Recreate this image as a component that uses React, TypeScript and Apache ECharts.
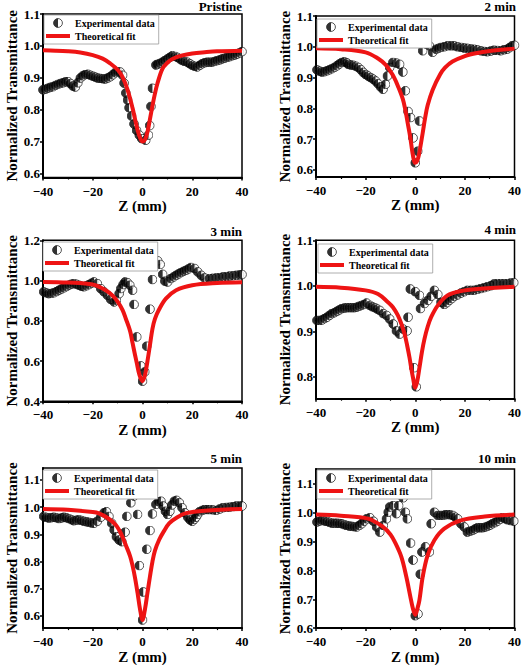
import React, { useEffect, useRef } from "react";
import * as echarts from "echarts";

const FONT = "Liberation Serif";
const RED = "#ee1414";

const panelTitles = ["Pristine", "2 min", "3 min", "4 min", "5 min", "10 min"];
const xTicks = [-40, -20, 0, 20, 40];
const yTicksA = [0.6, 0.7, 0.8, 0.9, 1.0, 1.1];
const yTicks3 = [0.4, 0.6, 0.8, 1.0, 1.2];
const yTicks4 = [0.8, 0.9, 1.0, 1.1];

const pristineExp: number[][] = [
  [-40, 0.862], [-39, 0.864], [-38, 0.867], [-37, 0.87], [-36, 0.872], [-35, 0.876], [-34, 0.879], [-33, 0.882],
  [-32, 0.884], [-31, 0.887], [-30, 0.888], [-29, 0.882], [-28, 0.874], [-27, 0.871], [-26, 0.884], [-25, 0.899],
  [-24, 0.906], [-23, 0.91], [-22, 0.911], [-21, 0.908], [-20, 0.905], [-19, 0.902], [-18, 0.899], [-17, 0.898],
  [-16, 0.897], [-15, 0.896], [-14, 0.899], [-13, 0.903], [-12, 0.909], [-11, 0.916], [-10, 0.919], [-9, 0.918],
  [-8, 0.908], [-7.4, 0.883], [-6.7, 0.852], [-6, 0.83], [-5.4, 0.806], [-4.4, 0.78], [-3.4, 0.755], [-2.4, 0.735],
  [-1.3, 0.72], [-0.3, 0.709], [1.3, 0.704], [2.4, 0.72], [2.9, 0.75], [3.4, 0.81], [4, 0.867], [5.4, 0.94],
  [6, 0.942], [7, 0.945], [8, 0.949], [9, 0.954], [10, 0.959], [11, 0.964], [12, 0.969], [13, 0.967], [14, 0.964],
  [15, 0.959], [16, 0.954], [17, 0.951], [18, 0.949], [19, 0.944], [20, 0.939], [21, 0.936], [22, 0.934], [23, 0.939],
  [24, 0.944], [25, 0.947], [26, 0.949], [27, 0.949], [28, 0.949], [29, 0.951], [30, 0.954], [31, 0.956], [32, 0.959],
  [33, 0.961], [34, 0.964], [35, 0.966], [36, 0.969], [37, 0.971], [38, 0.974], [39, 0.978], [40, 0.982],
];
const pristineFit: number[][] = [
  [-40, 0.986], [-35, 0.985], [-30, 0.983], [-25, 0.979], [-20, 0.971], [-16, 0.96], [-13, 0.945], [-10, 0.925],
  [-8, 0.902], [-6, 0.862], [-4, 0.805], [-3, 0.77], [-2, 0.737], [-1, 0.712], [0, 0.7], [1, 0.706], [2, 0.73],
  [3, 0.77], [4, 0.812], [5, 0.85], [6, 0.882], [8, 0.928], [10, 0.947], [12, 0.959], [16, 0.97], [20, 0.976],
  [25, 0.98], [30, 0.983], [40, 0.985],
];

const twoMinExp: number[][] = [
  [-39.6, 0.925], [-38.6, 0.921], [-37.6, 0.918], [-36.6, 0.919], [-35.6, 0.922], [-34.6, 0.925], [-33.6, 0.929],
  [-32.6, 0.933], [-31.6, 0.938], [-30.6, 0.944], [-29.6, 0.949], [-28.6, 0.951], [-27.6, 0.948], [-27, 0.943],
  [-26, 0.941], [-25, 0.94], [-24, 0.937], [-23, 0.933], [-22, 0.926], [-21, 0.917], [-20, 0.91], [-19, 0.905],
  [-18, 0.9], [-17, 0.895], [-16, 0.889], [-15, 0.88], [-14, 0.87], [-13, 0.862], [-12, 0.878], [-11.2, 0.905],
  [-10.3, 0.933], [-9, 0.949], [-7.6, 0.947], [-6.3, 0.943], [-5, 0.918], [-4, 0.857], [-2.9, 0.79], [-1.9, 0.77],
  [-0.9, 0.704], [0, 0.623], [1, 0.661], [1.7, 0.759], [3, 0.987], [4.4, 1.009], [5.7, 1.003], [7, 0.982],
  [8.4, 0.992], [9.4, 0.995], [10.4, 0.998], [11.7, 1.0], [13, 1.003], [14.4, 1.003], [15.7, 1.003], [17, 1.0],
  [18.4, 0.998], [19.7, 0.996], [21, 0.995], [22.4, 0.993], [23.7, 0.992], [25, 0.99], [26.4, 0.987], [27.7, 0.985],
  [29, 0.984], [30.4, 0.986], [31.7, 0.989], [33, 0.988], [34.4, 0.987], [35.7, 0.99], [37, 0.992], [38, 0.997],
  [39, 1.003], [40, 1.005],
];
const twoMinFit: number[][] = [
  [-40, 0.995], [-30, 0.992], [-20, 0.982], [-15, 0.962], [-12, 0.942], [-10, 0.92], [-8.5, 0.9], [-7, 0.873],
  [-5, 0.83], [-4, 0.795], [-3, 0.75], [-2, 0.705], [-1.2, 0.66], [-0.5, 0.63], [0, 0.623], [0.7, 0.628],
  [1.5, 0.65], [3, 0.72], [4, 0.77], [5, 0.81], [7, 0.86], [10, 0.91], [12, 0.932], [15, 0.952], [20, 0.97],
  [25, 0.98], [30, 0.986], [40, 0.994],
];

const threeMinExp: number[][] = [
  [-39.7, 0.944], [-38.7, 0.939], [-37.7, 0.935], [-36.7, 0.936], [-35.7, 0.939], [-34.6, 0.945], [-33.6, 0.952],
  [-32.6, 0.958], [-31.6, 0.964], [-30.6, 0.97], [-29.6, 0.977], [-28.6, 0.982], [-27.6, 0.985], [-26.6, 0.982],
  [-25.6, 0.977], [-24.6, 0.972], [-23.6, 0.969], [-22.5, 0.974], [-21.5, 0.98], [-20.5, 0.987], [-19.5, 0.993],
  [-18.2, 0.985], [-16.8, 0.96], [-15.5, 0.944], [-14.1, 0.927], [-12.8, 0.907], [-11.4, 0.894], [-10.5, 0.902],
  [-9.4, 0.935], [-8.7, 0.96], [-7.8, 0.98], [-7, 0.993], [-6.1, 0.99], [-5.1, 0.977], [-4, 0.952], [-3.4, 0.881],
  [-2.3, 0.72], [-0.7, 0.576], [0, 0.5], [0.9, 0.546], [1.7, 0.674], [3, 0.858], [4, 1.005], [4.4, 1.076],
  [6.1, 1.098], [7.1, 1.08], [8.1, 1.031], [9, 0.997], [10.1, 0.993], [11.4, 1.01], [12.5, 1.018], [13.5, 1.026],
  [14.5, 1.033], [15.5, 1.04], [16.5, 1.046], [17.5, 1.051], [18.5, 1.058], [19.5, 1.065], [20.9, 1.06],
  [22.2, 1.043], [23.6, 1.026], [24.9, 1.013], [26.9, 1.01], [28.2, 1.011], [29.6, 1.013], [31, 1.015],
  [32.3, 1.018], [33.7, 1.02], [35, 1.022], [36.4, 1.024], [37.7, 1.026], [39, 1.028], [40, 1.03],
];
const threeMinFit: number[][] = [
  [-40, 0.993], [-30, 0.99], [-20, 0.98], [-14.8, 0.952], [-12, 0.925], [-10, 0.895], [-8, 0.853], [-6.7, 0.81],
  [-5, 0.75], [-4, 0.69], [-3, 0.63], [-2.4, 0.596], [-1.2, 0.53], [0, 0.5], [1, 0.53], [2, 0.6], [3, 0.68],
  [4, 0.76], [5, 0.81], [6.7, 0.857], [9.4, 0.91], [13.5, 0.952], [20, 0.977], [30, 0.988], [40, 0.992],
];

const fourMinExp: number[][] = [
  [-39.6, 0.924], [-38.6, 0.924], [-37.6, 0.925], [-36.6, 0.928], [-35.6, 0.931], [-34.6, 0.935], [-33.6, 0.939],
  [-32.6, 0.941], [-31.6, 0.944], [-30.6, 0.947], [-29.6, 0.95], [-28.6, 0.951], [-27.6, 0.952], [-26.6, 0.952],
  [-25.6, 0.952], [-24.6, 0.952], [-23.6, 0.953], [-22.6, 0.955], [-21.6, 0.957], [-20.6, 0.959], [-19.6, 0.962],
  [-18.3, 0.957], [-17.3, 0.954], [-16.3, 0.952], [-15.3, 0.949], [-14.3, 0.946], [-12.9, 0.939], [-11.6, 0.935],
  [-10.3, 0.927], [-8.9, 0.916], [-7.6, 0.901], [-6.3, 0.894], [-4.9, 0.905], [-3.3, 0.901], [-2.9, 0.931],
  [-2, 0.993], [-0.5, 0.82], [0, 0.987], [0.4, 0.778], [1.7, 0.979], [2.1, 0.95], [3.7, 0.961], [5.1, 0.968],
  [6.4, 0.977], [7.7, 0.99], [9.1, 0.981], [10.4, 0.964], [11.7, 0.959], [12.7, 0.963], [13.7, 0.968],
  [14.7, 0.972], [15.7, 0.977], [17, 0.98], [18.4, 0.984], [19.7, 0.987], [21, 0.99], [22.4, 0.99], [23.7, 0.99],
  [25, 0.992], [26.4, 0.994], [27.7, 0.996], [29, 0.998], [30.4, 1.0], [31.7, 1.004], [33, 1.005], [34.4, 1.005],
  [35.7, 1.005], [37, 1.005], [38.4, 1.006], [39.7, 1.007],
];
const fourMinFit: number[][] = [
  [-40, 0.998], [-30, 0.996], [-20, 0.99], [-15, 0.982], [-11, 0.964], [-9, 0.953], [-7, 0.935], [-5.5, 0.915],
  [-4.3, 0.894], [-3.3, 0.87], [-2.3, 0.842], [-1.5, 0.815], [-0.9, 0.798], [0, 0.776], [0.8, 0.79], [1.7, 0.82],
  [2.7, 0.855], [3.7, 0.883], [5, 0.91], [6.4, 0.931], [9.1, 0.957], [13, 0.979], [18, 0.988], [25, 0.993],
  [40, 0.998],
];

const fiveMinExp: number[][] = [
  [-39.7, 0.966], [-38.7, 0.962], [-37.7, 0.96], [-36.7, 0.961], [-35.7, 0.963], [-34.6, 0.961], [-33.6, 0.958],
  [-32.6, 0.96], [-31.6, 0.963], [-30.6, 0.961], [-29.6, 0.958], [-28.6, 0.954], [-27.6, 0.95], [-26.6, 0.952],
  [-25.6, 0.954], [-24.6, 0.951], [-23.6, 0.948], [-22.5, 0.946], [-21.5, 0.944], [-20.5, 0.942], [-19.5, 0.941],
  [-18.2, 0.948], [-16.8, 0.963], [-15.5, 0.979], [-14.5, 0.983], [-13.5, 0.966], [-12.4, 0.941], [-11.4, 0.916],
  [-10.5, 0.891], [-9.4, 0.879], [-8.3, 0.873], [-7, 0.908], [-6.3, 0.966], [-4.7, 1.016], [-3.4, 1.041],
  [-2, 0.973], [-1.3, 0.785], [0, 0.585], [0.3, 0.688], [1.7, 0.845], [3, 0.914], [4, 0.975], [5.4, 1.01],
  [6.5, 1.02], [7.4, 1.022], [8.3, 1.004], [9.2, 0.985], [10.1, 0.973], [11, 0.985], [11.8, 1.008], [12.8, 1.022],
  [13.7, 1.025], [14.8, 1.016], [15.9, 0.998], [17, 0.979], [18.2, 0.963], [19.1, 0.953], [20, 0.948],
  [20.8, 0.955], [21.5, 0.963], [22.2, 0.973], [22.9, 0.983], [24, 0.988], [24.9, 0.991], [26, 0.991],
  [26.9, 0.991], [28.2, 0.99], [29.6, 0.988], [31, 0.993], [32.3, 0.998], [33.7, 0.999], [35, 1.0], [36.4, 1.002],
  [37.7, 1.004], [39, 1.004], [40, 1.004],
];
const fiveMinFit: number[][] = [
  [-40, 0.993], [-30, 0.99], [-20, 0.982], [-17.5, 0.977], [-14, 0.96], [-10.8, 0.935], [-8.5, 0.9], [-6.7, 0.86],
  [-5, 0.82], [-4, 0.785], [-3, 0.74], [-2, 0.685], [-1, 0.625], [0, 0.585], [1, 0.625], [2, 0.685], [3, 0.745],
  [4, 0.8], [5, 0.84], [6.7, 0.88], [8.5, 0.91], [10.8, 0.941], [14, 0.963], [17.5, 0.978], [25, 0.987], [40, 0.993],
];

const tenMinExp: number[][] = [
  [-39.6, 0.968], [-38.6, 0.971], [-37.6, 0.974], [-36.6, 0.972], [-35.6, 0.97], [-34.6, 0.967], [-33.6, 0.964],
  [-32.6, 0.964], [-31.6, 0.964], [-30.6, 0.963], [-29.6, 0.962], [-28.6, 0.959], [-27.6, 0.956], [-26.6, 0.954],
  [-25.6, 0.953], [-24.6, 0.952], [-23.6, 0.951], [-22.6, 0.956], [-21.6, 0.962], [-20.6, 0.971], [-19.6, 0.979],
  [-18.3, 0.983], [-16.9, 0.971], [-15.6, 0.951], [-14.3, 0.933], [-12.9, 0.956], [-11.6, 0.979], [-10.9, 1.002],
  [-10.3, 1.02], [-8.9, 1.025], [-7.6, 0.997], [-6.7, 1.025], [-4.9, 1.052], [-4, 1.002], [-3.2, 0.979],
  [-1.9, 0.895], [-0.9, 0.836], [0, 0.643], [1.1, 0.649], [2, 0.787], [2.7, 0.864], [4.1, 0.882], [5.7, 0.864],
  [6.4, 0.962], [7.7, 1.002], [9.1, 0.991], [10.1, 0.991], [11.1, 0.991], [12.1, 0.993], [13.1, 0.994],
  [14.1, 0.993], [15.1, 0.991], [16.1, 0.985], [17.1, 0.979], [18.4, 0.962], [19.7, 0.951], [21, 0.933],
  [22.1, 0.936], [23.1, 0.939], [24.1, 0.944], [25.1, 0.948], [26.1, 0.948], [27.1, 0.948], [28.1, 0.95],
  [29.1, 0.953], [30.1, 0.957], [31.1, 0.962], [32.1, 0.966], [33.1, 0.971], [34.1, 0.977], [35.1, 0.983],
  [36.1, 0.98], [37.1, 0.976], [38.4, 0.973], [39.7, 0.971],
];
const tenMinFit: number[][] = [
  [-40, 0.994], [-30, 0.99], [-19, 0.98], [-13, 0.951], [-10, 0.925], [-8.3, 0.9], [-5.6, 0.847], [-3.6, 0.778],
  [-2, 0.71], [-1, 0.67], [0, 0.646], [1, 0.672], [1.7, 0.698], [3, 0.778], [5, 0.853], [7.7, 0.905],
  [11.7, 0.945], [18.4, 0.974], [28, 0.987], [40, 0.994],
];

const expSets = [pristineExp, twoMinExp, threeMinExp, fourMinExp, fiveMinExp, tenMinExp];
const fitSets = [pristineFit, twoMinFit, threeMinFit, fourMinFit, fiveMinFit, tenMinFit];
const yTickSets = [yTicksA, yTicksA, yTicks3, yTicks4, yTicksA, yTicksA];
const yRanges = [
  [0.587, 1.1], [0.577, 1.1], [0.4, 1.2], [0.752, 1.1], [0.555, 1.144], [0.6, 1.152],
];

// layout (pixels)
const grids = [
  { left: 43, top: 14, width: 199, height: 163.5 },
  { left: 316, top: 16, width: 200, height: 161 },
  { left: 43, top: 240.3, width: 199, height: 161 },
  { left: 316, top: 240.3, width: 200, height: 158.4 },
  { left: 43, top: 468, width: 199, height: 161 },
  { left: 316, top: 469, width: 200, height: 160 },
];
const legendPos = [
  { left: 44, top: 15 },
  { left: 317, top: 19 },
  { left: 43, top: 242 },
  { left: 318, top: 244 },
  { left: 43, top: 470 },
  { left: 317, top: 470 },
];
const titlePos = [
  { right: 282, top: 0 },
  { right: 8, top: 0 },
  { right: 282, top: 225 },
  { right: 8, top: 223 },
  { right: 282, top: 452 },
  { right: 8, top: 452 },
];

const halfSvg =
  '<svg xmlns="http://www.w3.org/2000/svg" width="24" height="24" viewBox="0 0 24 24">' +
  '<circle cx="12" cy="12" r="10.6" fill="#ffffff" stroke="#000000" stroke-width="2"/>' +
  '<path d="M12 1.2 A10.8 10.8 0 0 0 12 22.8 Z" fill="#000000"/></svg>';
const HALF = "image://data:image/svg+xml;charset=utf-8," + encodeURIComponent(halfSvg);

function buildOption() {
  const bold = { fontFamily: FONT, fontWeight: "bold" as const, color: "#000" };
  const xAxis = grids.map((_, i) => ({
    type: "value",
    gridIndex: i,
    min: xTicks[0],
    max: xTicks[xTicks.length - 1],
    interval: 20,
    name: "Z (mm)",
    nameLocation: "middle",
    nameGap: 17,
    nameTextStyle: { ...bold, fontSize: 15 },
    axisLine: { show: true, onZero: false, lineStyle: { color: "#000", width: 2 } },
    axisTick: { show: true, inside: false, length: 3, lineStyle: { color: "#000", width: 1.5 } },
    minorTick: { show: true, splitNumber: 2, length: 2, lineStyle: { color: "#000", width: 1.2 } },
    splitLine: { show: false },
    axisLabel: {
      ...bold,
      fontSize: 13,
      margin: 7,
      formatter: (v: number) => (v < 0 ? "\u2212" + Math.abs(v) : String(v)),
    },
  }));
  const yAxis = grids.map((_, i) => ({
    type: "value",
    gridIndex: i,
    min: yRanges[i][0],
    max: yRanges[i][1],
    name: "Normalized Transmittance",
    nameLocation: "middle",
    nameGap: 19,
    nameTextStyle: { ...bold, fontSize: 15 },
    axisLine: { show: true, onZero: false, lineStyle: { color: "#000", width: 2 } },
    axisTick: {
      show: true,
      inside: false,
      length: 3,
      customValues: yTickSets[i],
      lineStyle: { color: "#000", width: 1.5 },
    },
    splitLine: { show: false },
    axisLabel: {
      ...bold,
      fontSize: 13,
      margin: 3,
      customValues: yTickSets[i],
      formatter: (v: number) => v.toFixed(1),
    },
  }));
  const series: any[] = [];
  grids.forEach((_, i) => {
    series.push({
      type: "scatter",
      name: "Experimental data",
      xAxisIndex: i,
      yAxisIndex: i,
      data: expSets[i],
      symbol: HALF,
      symbolSize: 10,
      z: 2,
    });
    series.push({
      type: "line",
      name: "Theoretical fit",
      xAxisIndex: i,
      yAxisIndex: i,
      data: fitSets[i],
      showSymbol: false,
      symbol: "none",
      smooth: 0.35,
      color: RED,
      lineStyle: { color: RED, width: 4 },
      z: 3,
    });
  });
  const legend = legendPos.map((p) => ({
    ...p,
    orient: "vertical",
    itemWidth: 24,
    itemHeight: 10,
    itemGap: 3,
    padding: [3, 4, 3, 2],
    backgroundColor: "#fff",
    borderColor: "#999",
    borderWidth: 0.8,
    selectedMode: false,
    textStyle: { ...bold, fontSize: 10 },
    data: [
      { name: "Experimental data", icon: HALF },
      { name: "Theoretical fit", icon: "path://M0 0H24V4H0Z", itemStyle: { color: RED } },
    ],
  }));
  const title = panelTitles.map((t, i) => ({
    text: t,
    ...titlePos[i],
    padding: 0,
    textStyle: { ...bold, fontSize: 13 },
  }));
  return {
    animation: false,
    backgroundColor: "#fff",
    textStyle: { fontFamily: FONT },
    title,
    legend,
    grid: grids.map((g) => ({ ...g, show: true, borderColor: "#000", borderWidth: 1.5, backgroundColor: "transparent" })),
    xAxis,
    yAxis,
    series,
  };
}

export default function App() {
  const ref = useRef<HTMLDivElement>(null);
  useEffect(() => {
    if (!ref.current) return;
    const chart = echarts.init(ref.current, null, { renderer: "svg" });
    chart.setOption(buildOption() as any);
    return () => chart.dispose();
  }, []);
  return (
    <div
      ref={ref}
      style={{ position: "absolute", left: 0, top: 0, width: 524, height: 665, background: "#fff" }}
    />
  );
}
